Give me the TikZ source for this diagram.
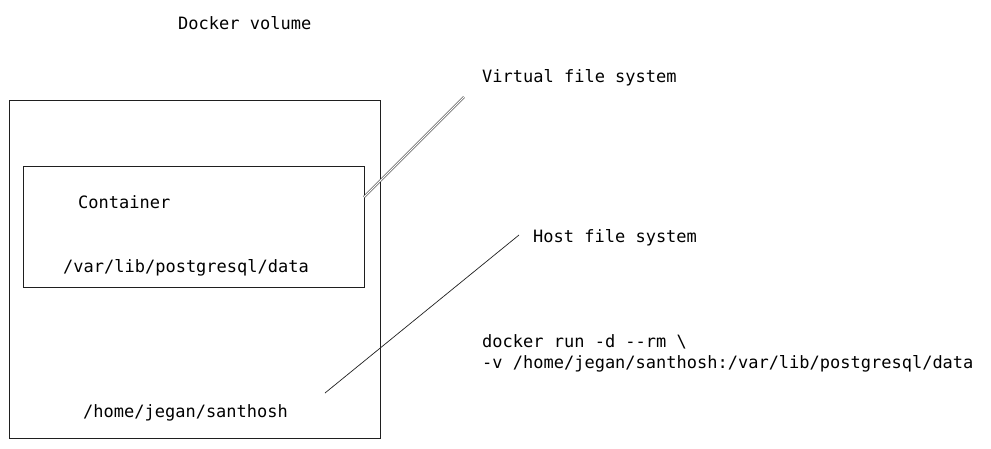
\documentclass[tikz,border=0pt]{standalone}
\usepackage{fontspec}
\setmainfont{DejaVu Sans Mono}
\usetikzlibrary{positioning}

\begin{document}
\begin{tikzpicture}[
        x=1pt, y=-1pt,
        sketch/.style={font=\fontsize{17}{21}\selectfont, inner sep=0pt, anchor=base west},
        box/.style={draw=black!88, line width=1.2pt, inner sep=0pt, anchor=north west},
        pointer/.style={draw=black!88, line width=0.7pt}
        ]
            \useasboundingbox (0,0) rectangle (991,448);

            % boxes
            \node[box, minimum width=371pt, minimum height=338pt] (VOLUME) at (9,100) {};
            \node[box, minimum width=341pt, minimum height=121pt] (CONTAINER) at (23,166) {};

            % labels
            \node[sketch] (TITLE) at (178,29) {Docker volume};
            \node[sketch] (CNAME) at (78,208) {Container};
            \node[sketch] (CPATH) at (63,272) {/var/lib/postgresql/data};
            \node[sketch] (HPATH) at (83,417) {/home/jegan/santhosh};
            \node[sketch] (VFS) at (482,82) {Virtual file system};
            \node[sketch] (HFS) at (533,242) {Host file system};
            \node[sketch] (CMDA) at (482,347) {docker run -d -{}-rm \textbackslash};
            \node[sketch] (CMDB) at (482,368) {-v /home/jegan/santhosh:/var/lib/postgresql/data};

            % pointers
            \coordinate (VFSFROM) at (364,197);
            \coordinate (VFSTO) at (464,97);
            \coordinate (HFSFROM) at (325,393);
            \coordinate (HFSTO) at (519,235);

            \draw[pointer, line width=0.5pt, double, double distance=1.3pt] (VFSFROM) -- (VFSTO);
            \draw[pointer] (HFSFROM) -- (HFSTO);
\end{tikzpicture}
\end{document}
